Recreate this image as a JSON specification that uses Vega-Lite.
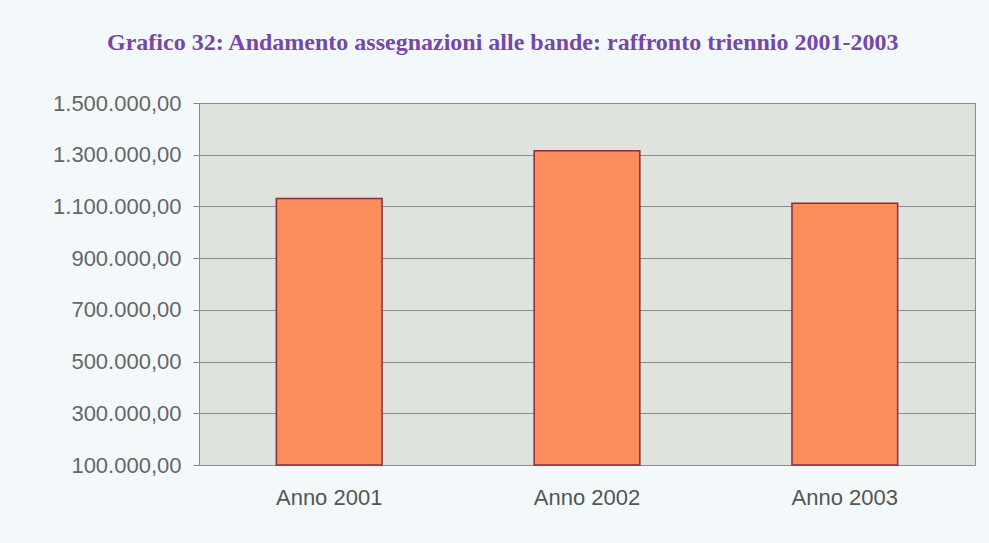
{
  "$schema": "https://vega.github.io/schema/vega-lite/v6.json",
  "autosize": {"type": "none"},
  "width": 776,
  "height": 362,
  "padding": {"left": 199, "top": 103, "right": 14, "bottom": 78},
  "background": "#f3f9fb",
  "config": {
    "locale": {"number": {"decimal": ",", "thousands": ".", "grouping": [3], "currency": ["€", ""]}},
    "view": {"fill": "#dee4dd", "stroke": "#8a8a8a", "strokeWidth": 1}
  },
  "title": {
    "text": "Grafico 32: Andamento assegnazioni alle bande: raffronto triennio 2001-2003",
    "anchor": "start",
    "frame": "group",
    "dx": -92,
    "offset": 37,
    "font": "Liberation Serif",
    "fontSize": 24,
    "fontWeight": "bold",
    "color": "#7548a8"
  },
  "data": {
    "values": [
      {"anno": "Anno 2001", "valore": 1131000},
      {"anno": "Anno 2002", "valore": 1315500},
      {"anno": "Anno 2003", "valore": 1112000}
    ]
  },
  "mark": {"type": "bar", "color": "#fd8c5c", "stroke": "#8a2c3c", "strokeWidth": 1.5},
  "encoding": {
    "x": {
      "field": "anno",
      "type": "nominal",
      "title": null,
      "scale": {"paddingInner": 0.59, "paddingOuter": 0.3},
      "axis": {
        "labelAngle": 0,
        "labelFont": "Liberation Sans",
        "labelFontSize": 22,
        "labelColor": "#555555",
        "labelPadding": 22,
        "ticks": false,
        "domain": false
      }
    },
    "y": {
      "field": "valore",
      "type": "quantitative",
      "title": null,
      "scale": {"domain": [100000, 1500000], "zero": false, "nice": false},
      "axis": {
        "values": [100000, 300000, 500000, 700000, 900000, 1100000, 1300000, 1500000],
        "format": ",.2f",
        "labelFont": "Liberation Sans",
        "labelFontSize": 22,
        "labelColor": "#666666",
        "labelPadding": 12,
        "tickSize": 6,
        "tickColor": "#888888",
        "domain": false,
        "gridColor": "#8c8c8c",
        "gridOpacity": 1
      }
    },
    "y2": {"datum": 100000}
  }
}
